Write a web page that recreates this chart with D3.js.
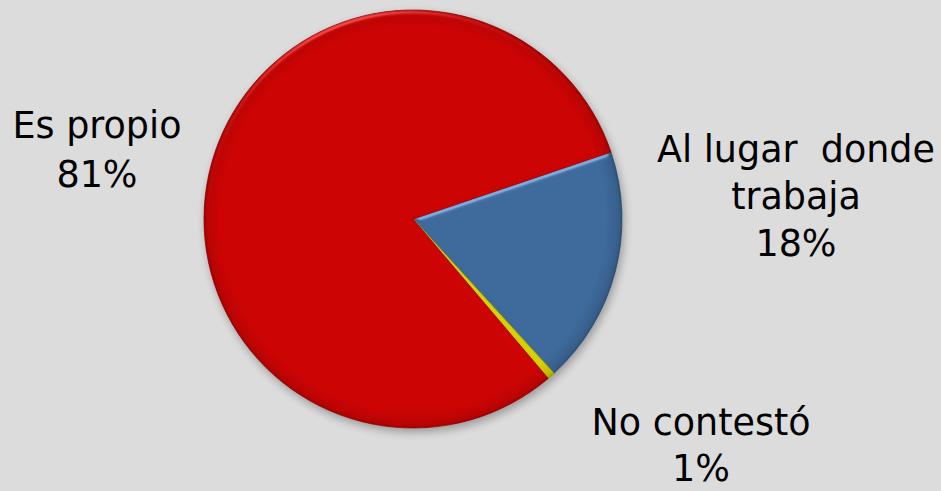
<!DOCTYPE html>
<html>
<head>
<meta charset="utf-8">
<script src="https://cdn.jsdelivr.net/npm/d3@7"></script>
<style>
  body { margin: 0; background: #dcdcdc; }
  svg { display: block; }
  .label { font-family: "DejaVu Sans", Verdana, sans-serif; font-size: 36.5px; fill: #000; }
</style>
</head>
<body>
<div id="chart"></div>
<script>
// Data
const categories = ["Al lugar  donde trabaja", "No contestó", "Es propio"];
const values = [18.4, 0.6, 81.0];
const colors = ["#3d699b", "#d4d000", "#cc0303"];
// label lines (text only, percentage added below)
const labelLines = [["Al lugar  donde", "trabaja"], ["No contestó"], ["Es propio"]];

const width = 941;
const height = 491;
const cx = 413;
const cy = 219;
const radius = 209;
const startDeg = 71.3;

const svg = d3.select("#chart")
  .append("svg")
  .attr("width", width)
  .attr("height", height);

svg.append("rect")
  .attr("width", width)
  .attr("height", height)
  .attr("fill", "#dcdcdc");

const defs = svg.append("defs");

// soft shadow under the pie
const shadow = defs.append("filter")
  .attr("id", "shadow")
  .attr("color-interpolation-filters", "sRGB")
  .attr("x", "-20%").attr("y", "-20%")
  .attr("width", "140%").attr("height", "140%");
shadow.append("feGaussianBlur")
  .attr("in", "SourceAlpha").attr("stdDeviation", 4).attr("result", "b");
shadow.append("feOffset")
  .attr("in", "b").attr("dx", 2).attr("dy", 4).attr("result", "o");
shadow.append("feComponentTransfer").attr("in", "o").attr("result", "s")
  .append("feFuncA").attr("type", "linear").attr("slope", 0.3);
const sm = shadow.append("feMerge");
sm.append("feMergeNode").attr("in", "s");
sm.append("feMergeNode").attr("in", "SourceGraphic");

// bevel on every slice
const bevel = defs.append("filter")
  .attr("id", "bevel")
  .attr("color-interpolation-filters", "sRGB")
  .attr("x", "-10%").attr("y", "-10%")
  .attr("width", "120%").attr("height", "120%");
bevel.append("feGaussianBlur")
  .attr("in", "SourceAlpha").attr("stdDeviation", 2.5).attr("result", "blur");
bevel.append("feSpecularLighting")
  .attr("in", "blur").attr("surfaceScale", 3)
  .attr("specularConstant", 0.6).attr("specularExponent", 25)
  .attr("lighting-color", "#ffffff").attr("result", "spec")
  .append("feDistantLight").attr("azimuth", 250).attr("elevation", 28);
bevel.append("feComposite")
  .attr("in", "spec").attr("in2", "SourceAlpha").attr("operator", "in").attr("result", "specIn");
bevel.append("feComposite")
  .attr("in", "SourceGraphic").attr("in2", "specIn")
  .attr("operator", "arithmetic")
  .attr("k1", 0).attr("k2", 1).attr("k3", 0.45).attr("k4", 0);

// rim darkening
const rim = defs.append("radialGradient")
  .attr("id", "rim")
  .attr("gradientUnits", "userSpaceOnUse")
  .attr("cx", 0).attr("cy", 0).attr("r", radius);
rim.append("stop").attr("offset", "0.92").attr("stop-color", "#000").attr("stop-opacity", 0);
rim.append("stop").attr("offset", "0.985").attr("stop-color", "#000").attr("stop-opacity", 0.1);
rim.append("stop").attr("offset", "1").attr("stop-color", "#000").attr("stop-opacity", 0.22);

const pie = d3.pie()
  .sort(null)
  .value(d => d)
  .startAngle(startDeg * Math.PI / 180)
  .endAngle(startDeg * Math.PI / 180 + 2 * Math.PI);

const arcs = pie(values);
const arc = d3.arc().innerRadius(0).outerRadius(radius);

const g = svg.append("g")
  .attr("transform", "translate(" + cx + "," + cy + ")")
  .attr("filter", "url(#shadow)");

const slices = g.selectAll("g.slice")
  .data(arcs)
  .enter()
  .append("g")
  .attr("class", "slice")
  .attr("filter", "url(#bevel)");

slices.append("path")
  .attr("d", arc)
  .attr("fill", (d, i) => colors[i])
  .attr("stroke", (d, i) => d3.color(colors[i]).darker(0.6))
  .attr("stroke-width", 0.8);

slices.append("path")
  .attr("d", arc)
  .attr("fill", "url(#rim)");

// Labels
const total = d3.sum(values);
const fmt = d3.format(".0%");
const labelPos = [[796, 162], [701, 435], [97, 138]];
const lineGap = [47, 46, 49];

categories.forEach(function(c, i) {
  const lines = labelLines[i].concat([fmt(values[i] / total)]);
  const t = svg.append("text")
    .attr("class", "label")
    .attr("text-anchor", "middle");
  lines.forEach(function(l, j) {
    t.append("tspan")
      .attr("x", labelPos[i][0])
      .attr("y", labelPos[i][1] + j * lineGap[i])
      .attr("xml:space", "preserve")
      .text(l);
  });
});
</script>
</body>
</html>
